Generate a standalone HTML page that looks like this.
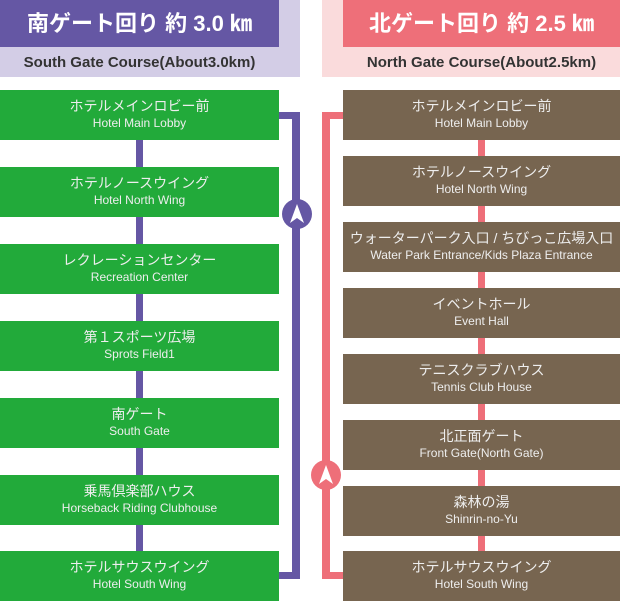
<!DOCTYPE html>
<html><head><meta charset="utf-8"><style>
body{margin:0;width:620px;height:600px;position:relative;background:#fff;overflow:hidden;font-family:"Liberation Sans","Noto Sans CJK JP",sans-serif}
div{position:absolute;box-sizing:border-box}
.hb{top:0;height:77px}
.ht{top:0;height:47px;color:#fff;font-weight:bold;font-size:22px;text-align:center;line-height:47px}
.st{top:49px;height:28px;line-height:28px;text-align:center;font-weight:bold;font-size:15px;color:#333;letter-spacing:0}
.b{height:50px;color:#eee;text-align:center;padding-top:7px}
.b .j{position:static;font-size:14px;line-height:18px}
.b .e{position:static;font-size:12px;line-height:16px}
.g{left:0;width:279px;background:#22aa3a}
.r{left:343px;width:277px;background:#776550}
.circ{width:30px;height:30px;border-radius:50%}
</style></head><body>
<div class="hb" style="left:0;width:300px;background:#d3cde6"></div>
<div class="ht" style="left:0;width:279px;background:#6557a4">南ゲート回り 約 3.0 ㎞</div>
<div class="st" style="left:0;width:279px">South Gate Course(About3.0km)</div>
<div class="hb" style="left:322px;width:298px;background:#fadbdc"></div>
<div class="ht" style="left:343px;width:277px;background:#ee6f79">北ゲート回り 約 2.5 ㎞</div>
<div class="st" style="left:343px;width:277px">North Gate Course(About2.5km)</div>

<div style="left:136px;top:120px;width:7px;height:450px;background:#6557a4"></div>
<div style="left:279px;top:112px;width:21px;height:7px;background:#6557a4"></div>
<div style="left:292px;top:112px;width:8px;height:467px;background:#6557a4"></div>
<div style="left:279px;top:572px;width:21px;height:7px;background:#6557a4"></div>
<div class="circ" style="left:282px;top:199px;background:#6557a4"></div>
<svg style="position:absolute;left:282px;top:199px" width="30" height="30"><path d="M15 5 L22 24 L15 19 L8 24Z" fill="#fff"/></svg>

<div style="left:478px;top:120px;width:7px;height:450px;background:#ee6f79"></div>
<div style="left:322px;top:112px;width:21px;height:7px;background:#ee6f79"></div>
<div style="left:322px;top:112px;width:8px;height:467px;background:#ee6f79"></div>
<div style="left:322px;top:572px;width:21px;height:7px;background:#ee6f79"></div>
<div class="circ" style="left:311px;top:460px;background:#ee6f79"></div>
<svg style="position:absolute;left:311px;top:460px" width="30" height="30"><path d="M15 5 L22 24 L15 19 L8 24Z" fill="#fff"/></svg>

<div class="b g" style="top:90px"><div class="j">ホテルメインロビー前</div><div class="e">Hotel Main Lobby</div></div>
<div class="b g" style="top:167px"><div class="j">ホテルノースウイング</div><div class="e">Hotel North Wing</div></div>
<div class="b g" style="top:244px"><div class="j">レクレーションセンター</div><div class="e">Recreation Center</div></div>
<div class="b g" style="top:321px"><div class="j">第１スポーツ広場</div><div class="e">Sprots Field1</div></div>
<div class="b g" style="top:398px"><div class="j">南ゲート</div><div class="e">South Gate</div></div>
<div class="b g" style="top:475px"><div class="j">乗馬倶楽部ハウス</div><div class="e">Horseback Riding Clubhouse</div></div>
<div class="b g" style="top:551px"><div class="j">ホテルサウスウイング</div><div class="e">Hotel South Wing</div></div>

<div class="b r" style="top:90px"><div class="j">ホテルメインロビー前</div><div class="e">Hotel Main Lobby</div></div>
<div class="b r" style="top:156px"><div class="j">ホテルノースウイング</div><div class="e">Hotel North Wing</div></div>
<div class="b r" style="top:222px"><div class="j">ウォーターパーク入口 / ちびっこ広場入口</div><div class="e">Water Park Entrance/Kids Plaza Entrance</div></div>
<div class="b r" style="top:288px"><div class="j">イベントホール</div><div class="e">Event Hall</div></div>
<div class="b r" style="top:354px"><div class="j">テニスクラブハウス</div><div class="e">Tennis Club House</div></div>
<div class="b r" style="top:420px"><div class="j">北正面ゲート</div><div class="e">Front Gate(North Gate)</div></div>
<div class="b r" style="top:486px"><div class="j">森林の湯</div><div class="e">Shinrin-no-Yu</div></div>
<div class="b r" style="top:551px"><div class="j">ホテルサウスウイング</div><div class="e">Hotel South Wing</div></div>
</body></html>
